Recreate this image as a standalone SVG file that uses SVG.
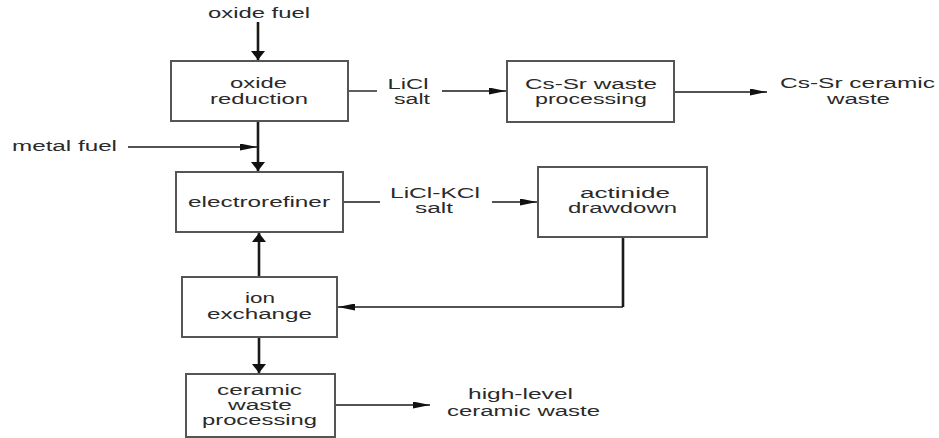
<svg xmlns="http://www.w3.org/2000/svg" width="939" height="438" viewBox="0 0 939 438">
<style>
  .box rect { fill: #ffffff; stroke: #555555; stroke-width: 2; }
  text { font-family: "Liberation Sans", Arial, sans-serif; font-size: 14px; fill: #2a2a2a; text-anchor: middle; }
  .h { fill: none; stroke: #1a1a1a; stroke-width: 1.4; }
  .v { fill: none; stroke: #1a1a1a; stroke-width: 2.6; }
</style>
<defs>
  <marker id="ah" markerUnits="userSpaceOnUse" markerWidth="17" markerHeight="7" refX="17" refY="3.5" orient="auto">
    <path d="M0,0 L17,3.5 L0,7 z" fill="#111111"/>
  </marker>
  <marker id="av" markerUnits="userSpaceOnUse" markerWidth="9" markerHeight="14" refX="9" refY="7" orient="auto">
    <path d="M0,0 L9,7 L0,14 z" fill="#111111"/>
  </marker>
</defs>
<rect width="939" height="438" fill="#ffffff"/>

<g id="connectors">
  <path class="v" d="M258,22 V60" marker-end="url(#av)"/>
  <path class="v" d="M258,121 V171" marker-end="url(#av)"/>
  <path class="h" d="M128,147 H257" marker-end="url(#ah)"/>
  <path class="h" d="M348,91 H377"/>
  <path class="h" d="M442,91 H506" marker-end="url(#ah)"/>
  <path class="h" d="M674,92 H767" marker-end="url(#ah)"/>
  <path class="h" d="M343,202 H380"/>
  <path class="h" d="M492,202 H537" marker-end="url(#ah)"/>
  <path class="v" d="M623,237 V307"/>
  <path class="h" d="M623,307 H338" marker-end="url(#ah)"/>
  <path class="v" d="M259,277 V233" marker-end="url(#av)"/>
  <path class="v" d="M259,337 V373" marker-end="url(#av)"/>
  <path class="h" d="M335,405 H430" marker-end="url(#ah)"/>
</g>

<g id="label-oxide-fuel"><text x="259" y="18" textLength="102" lengthAdjust="spacingAndGlyphs">oxide fuel</text></g>
<g id="label-metal-fuel"><text x="64.5" y="151" textLength="105" lengthAdjust="spacingAndGlyphs">metal fuel</text></g>

<g id="oxide-reduction" class="box">
  <rect x="171" y="61" width="177" height="60"/>
  <text x="258.5" y="88" textLength="57" lengthAdjust="spacingAndGlyphs">oxide</text>
  <text x="259" y="104" textLength="98" lengthAdjust="spacingAndGlyphs">reduction</text>
</g>

<g id="label-licl-salt">
  <text x="408" y="89" textLength="41" lengthAdjust="spacingAndGlyphs">LiCl</text>
  <text x="412" y="104" textLength="36" lengthAdjust="spacingAndGlyphs">salt</text>
</g>

<g id="cs-sr-waste-processing" class="box">
  <rect x="507" y="61" width="167" height="61"/>
  <text x="591" y="89" textLength="132" lengthAdjust="spacingAndGlyphs">Cs-Sr waste</text>
  <text x="591" y="104" textLength="112" lengthAdjust="spacingAndGlyphs">processing</text>
</g>

<g id="label-cs-sr-ceramic-waste">
  <text x="857.5" y="88" textLength="155" lengthAdjust="spacingAndGlyphs">Cs-Sr ceramic</text>
  <text x="858.5" y="104" textLength="63" lengthAdjust="spacingAndGlyphs">waste</text>
</g>

<g id="electrorefiner" class="box">
  <rect x="176" y="172" width="167" height="60"/>
  <text x="259" y="207" textLength="142" lengthAdjust="spacingAndGlyphs">electrorefiner</text>
</g>

<g id="label-licl-kcl-salt">
  <text x="435" y="198" textLength="90" lengthAdjust="spacingAndGlyphs">LiCl-KCl</text>
  <text x="434" y="213" textLength="38" lengthAdjust="spacingAndGlyphs">salt</text>
</g>

<g id="actinide-drawdown" class="box">
  <rect x="538" y="167" width="169" height="70"/>
  <text x="625" y="198" textLength="90" lengthAdjust="spacingAndGlyphs">actinide</text>
  <text x="622.5" y="213" textLength="109" lengthAdjust="spacingAndGlyphs">drawdown</text>
</g>

<g id="ion-exchange" class="box">
  <rect x="182" y="277" width="155" height="60"/>
  <text x="260" y="303" textLength="30" lengthAdjust="spacingAndGlyphs">ion</text>
  <text x="259.5" y="319" textLength="105" lengthAdjust="spacingAndGlyphs">exchange</text>
</g>

<g id="ceramic-waste-processing" class="box">
  <rect x="186" y="374" width="149" height="63"/>
  <text x="259.5" y="395" textLength="85" lengthAdjust="spacingAndGlyphs">ceramic</text>
  <text x="260" y="410" textLength="64" lengthAdjust="spacingAndGlyphs">waste</text>
  <text x="259.5" y="425" textLength="115" lengthAdjust="spacingAndGlyphs">processing</text>
</g>

<g id="label-high-level-ceramic-waste">
  <text x="520.5" y="399" textLength="105" lengthAdjust="spacingAndGlyphs">high-level</text>
  <text x="523.5" y="416" textLength="153" lengthAdjust="spacingAndGlyphs">ceramic waste</text>
</g>
</svg>
